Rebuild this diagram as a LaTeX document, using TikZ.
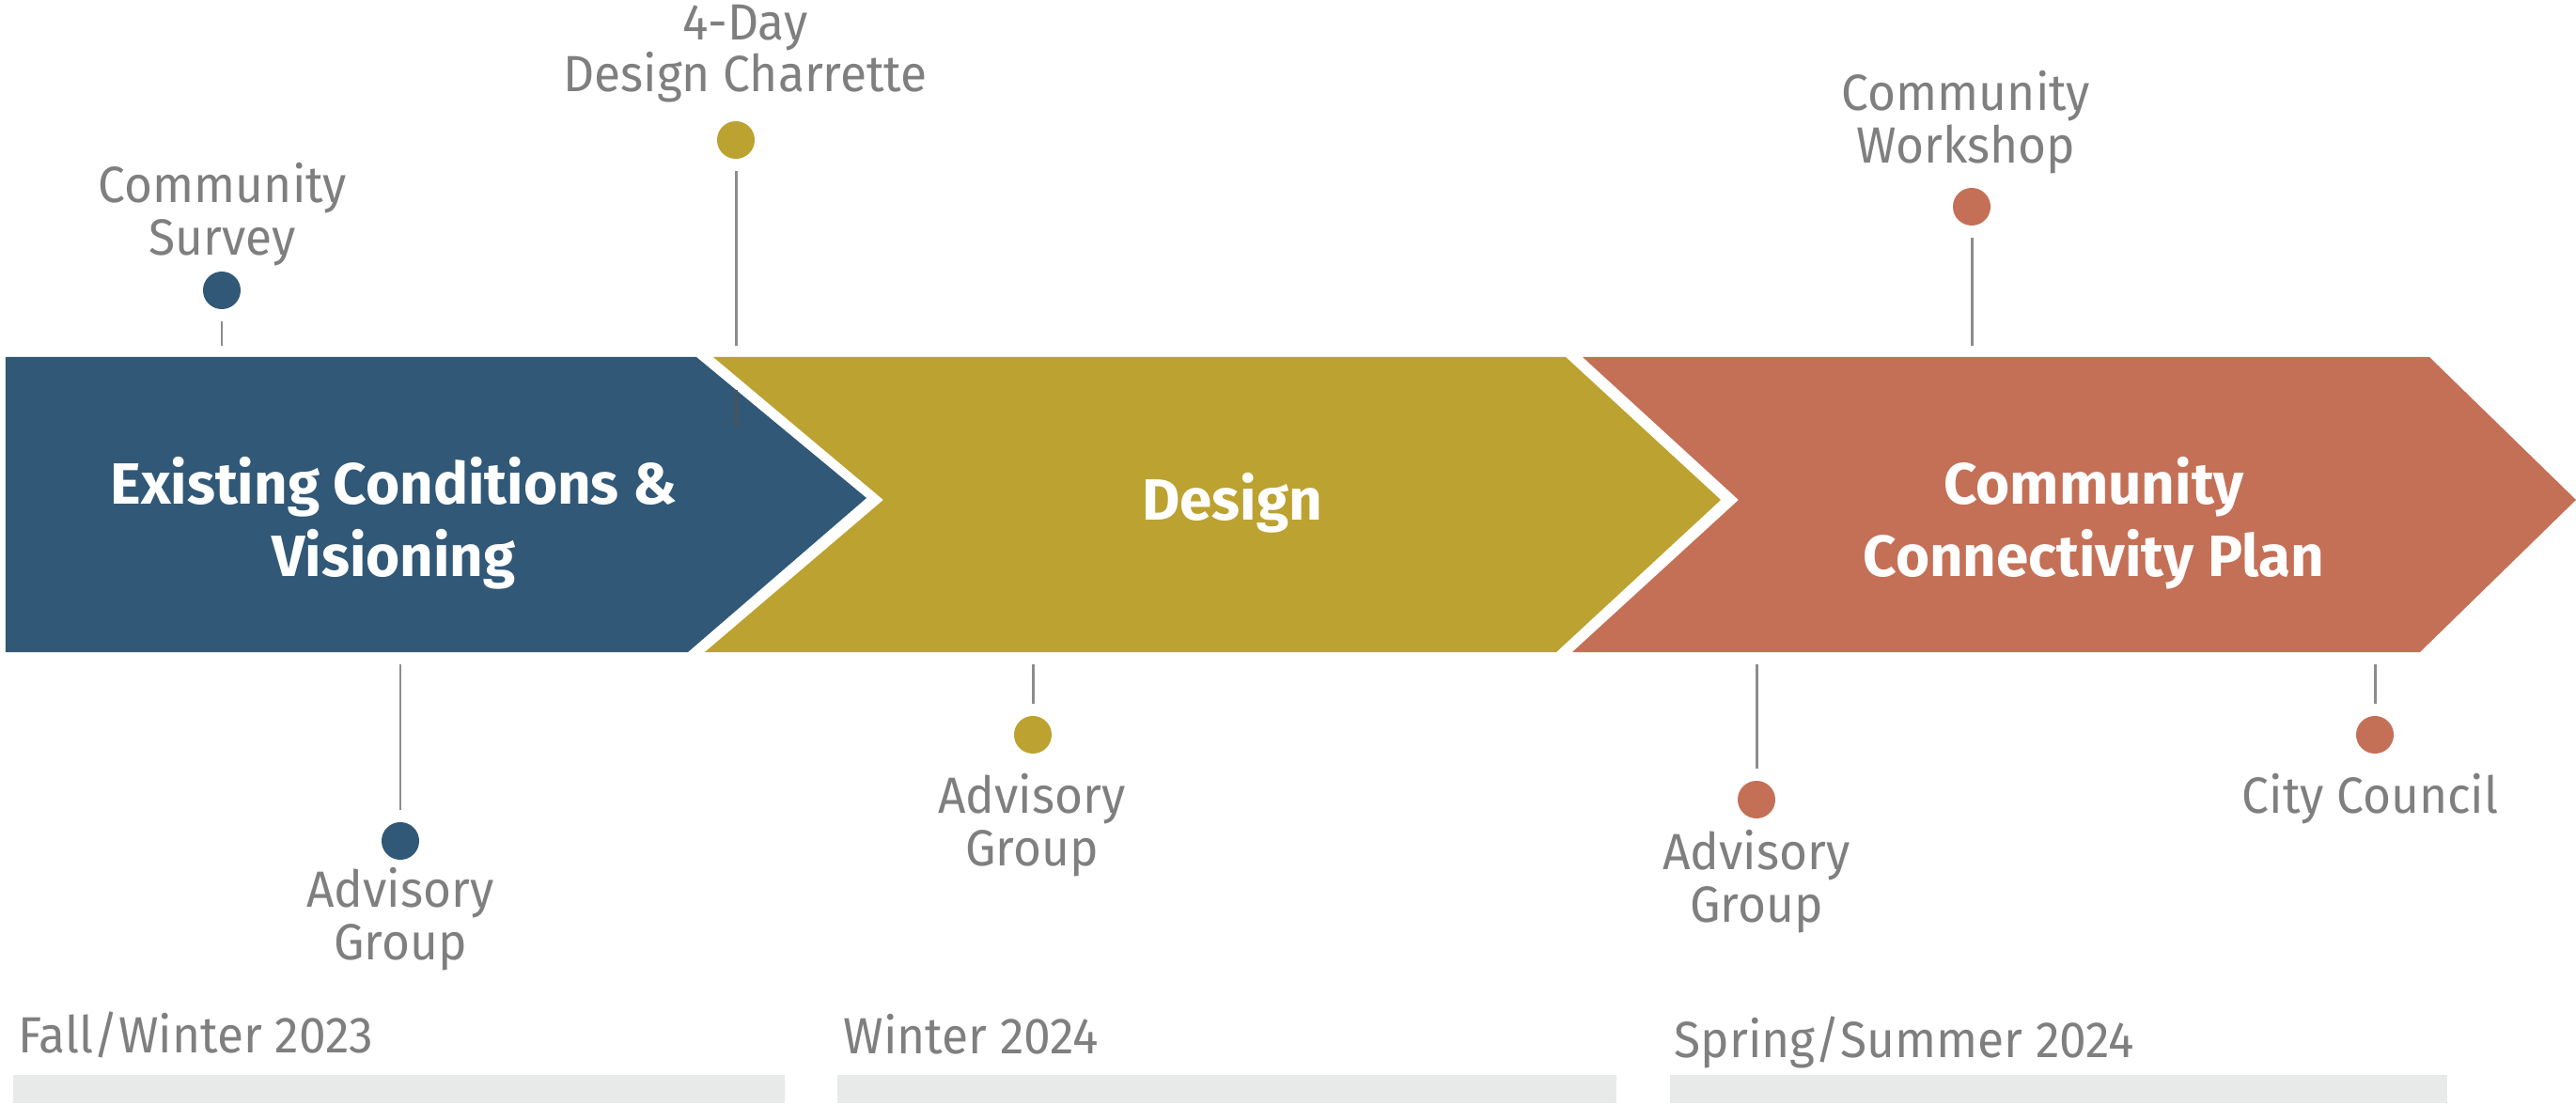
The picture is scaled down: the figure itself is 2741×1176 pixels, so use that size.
\documentclass[tikz,border=0pt]{standalone}
\usepackage{fontspec}
\setmainfont{Fira Sans}
\newfontfamily\lblfont{Fira Sans}[FakeStretch=0.95]
\definecolor{cblue}{HTML}{315877}
\definecolor{cgold}{HTML}{BCA230}
\definecolor{corange}{HTML}{C47056}
\definecolor{ctext}{HTML}{7F7F7F}
\definecolor{cline}{HTML}{8C8C8C}
\definecolor{cbar}{HTML}{E8E9E9}
\begin{document}
\begin{tikzpicture}[x=0.01cm,y=-0.01cm,
  lbl/.style={text=ctext,align=center,inner sep=0pt,font=\lblfont\fontsize{15.4}{15.8}\selectfont},
  period/.style={text=ctext,inner sep=0pt,anchor=base west,font=\lblfont\fontsize{15.4}{15.8}\selectfont},
  title/.style={text=white,align=center,inner sep=0pt,font=\bfseries\fontsize{17.6}{21.9}\selectfont},
  dot/.style={circle,minimum size=0.4cm,inner sep=0pt},
  conn/.style={draw=cline,line width=0.85pt},
]
\useasboundingbox (0,0) rectangle (2741,1176);
\fill[white] (0,0) rectangle (2741,1176);

% chevrons
\fill[cblue] (6,380) -- (741,380) -- (922,530) -- (732,694) -- (6,694) -- cycle;
\fill[cgold] (759,380) -- (1666,380) -- (1831,532) -- (1656,694) -- (750,694) -- (940,532) -- cycle;
\fill[corange] (1684,380) -- (2585,380) -- (2741,532) -- (2575,694) -- (1673,694) -- (1850,532) -- cycle;

% titles
\node[title] (t1) at (419,557) {Existing Conditions \&\\Visioning};
\node[title,anchor=base] (t2) at (1311,554) {Design};
\node[title] (t3) at (2228,557) {Community\\Connectivity Plan};

% dots
\node[dot,fill=cblue] (dsurvey) at (236,309) {};
\node[dot,fill=cgold] (dchar) at (783,149) {};
\node[dot,fill=corange] (dwork) at (2098,220) {};
\node[dot,fill=cblue] (dadv1) at (426,895) {};
\node[dot,fill=cgold] (dadv2) at (1099,782) {};
\node[dot,fill=corange] (dadv3) at (1869,851) {};
\node[dot,fill=corange] (dcity) at (2527,782) {};

% connector ends
\coordinate (esurvey) at (236,368);
\coordinate (echar) at (783,368);
\coordinate (ework) at (2098,368);
\coordinate (eadv1) at (426,707);
\coordinate (eadv2) at (1099,707);
\coordinate (eadv3) at (1869,707);
\coordinate (ecity) at (2527,707);
\coordinate (stubA) at (783,415);
\coordinate (stubB) at (783,455);

\draw[conn,shorten <=0.125cm] (dsurvey.south) -- (esurvey);
\draw[conn,shorten <=0.125cm] (dchar.south) -- (echar);
\draw[conn,shorten <=0.125cm] (dwork.south) -- (ework);
\draw[conn,shorten <=0.125cm] (dadv1.north) -- (eadv1);
\draw[conn,shorten <=0.125cm] (dadv2.north) -- (eadv2);
\draw[conn,shorten <=0.125cm] (dadv3.north) -- (eadv3);
\draw[conn,shorten <=0.125cm] (dcity.north) -- (ecity);
\draw[draw=cline!60!cblue!70!black,line width=0.85pt] (stubA) -- (stubB);

% labels
\node[lbl] (lsurvey) at (237,228) {Community\\Survey};
\node[lbl] (lchar) at (793,57) {4-Day\\Design Charrette};
\node[lbl] (lwork) at (2092,130) {Community\\Workshop};
\node[lbl] (ladv1) at (426,978) {Advisory\\Group};
\node[lbl] (ladv2) at (1098,878) {Advisory\\Group};
\node[lbl] (ladv3) at (1869,938) {Advisory\\Group};
\node[lbl,anchor=base] (lcity) at (2522,865) {City Council};

% periods
\node[period] (p1) at (19,1120) {Fall/Winter 2023};
\node[period] (p2) at (897,1121) {Winter 2024};
\node[period] (p3) at (1781,1125) {Spring/Summer 2024};
\fill[cbar] (14,1144) rectangle (835,1174);
\fill[cbar] (891,1144) rectangle (1720,1174);
\fill[cbar] (1777,1144) rectangle (2604,1174);
\end{tikzpicture}
\end{document}
